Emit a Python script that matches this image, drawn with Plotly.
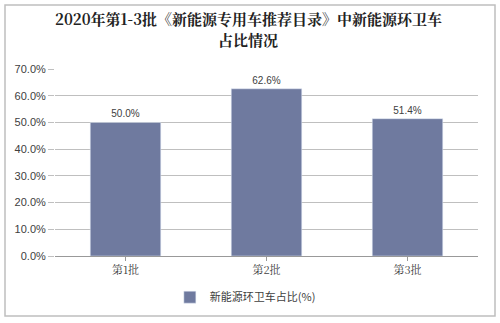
import plotly.graph_objects as go

categories = ["第1批", "第2批", "第3批"]
values = [0.500, 0.626, 0.514]
labels = ["50.0%", "62.6%", "51.4%"]
series_name = "新能源环卫车占比(%)"
title_lines = ["2020年第1-3批《新能源专用车推荐目录》中新能源环卫车", "占比情况"]

fig = go.Figure()
fig.add_trace(go.Bar(
    x=categories, y=values, name=series_name,
    marker=dict(color="#6F7A9F"),
    width=0.5,
    text=labels, textposition="outside",
    textfont=dict(size=10, color="#404040", family="Liberation Sans, Arial"),
    cliponaxis=False,
))

title_font = dict(size=15, color="#222222", family="Noto Serif CJK SC, serif")
annotations = [
    dict(text="<b>" + line + "</b>", xref="paper", yref="paper", x=(248 - 55) / 423,
         y=1 + (69 - yy) / 187, xanchor="center", yanchor="middle",
         showarrow=False, font=title_font)
    for line, yy in zip(title_lines, [18, 39])
]

fig.update_layout(
    width=500, height=323,
    margin=dict(l=55, r=22, t=69, b=67, autoexpand=False),
    paper_bgcolor="white", plot_bgcolor="white",
    annotations=annotations,
    showlegend=True,
    legend=dict(orientation="h", x=0.45, xanchor="center", yref="container", y=0.08, yanchor="middle",
                font=dict(size=11, color="#404040", family="Noto Sans CJK SC"),
                itemwidth=30),
    bargap=0.5,
    xaxis=dict(showline=True, linecolor="#999999", ticks="outside", tickcolor="#999999",
               ticklen=4, tickfont=dict(size=11, color="#404040", family="Noto Serif CJK SC, serif"),
               showgrid=False),
    yaxis=dict(range=[0, 0.7], dtick=0.1, tickformat=".1%", showgrid=True,
               gridcolor="#bfbfbf", gridwidth=1, zeroline=False,
               ticks="outside", tickcolor="#bfbfbf", ticklen=6,
               tickfont=dict(size=11, color="#404040", family="Liberation Sans, Arial")),
    shapes=[dict(type="rect", xref="paper", yref="paper",
                 x0=-50/423, x1=1 + 17/423, y0=-60/187, y1=1 + 64/187,
                 line=dict(color="#bfbfbf", width=1.5))],
)

fig.write_html("out.html")
